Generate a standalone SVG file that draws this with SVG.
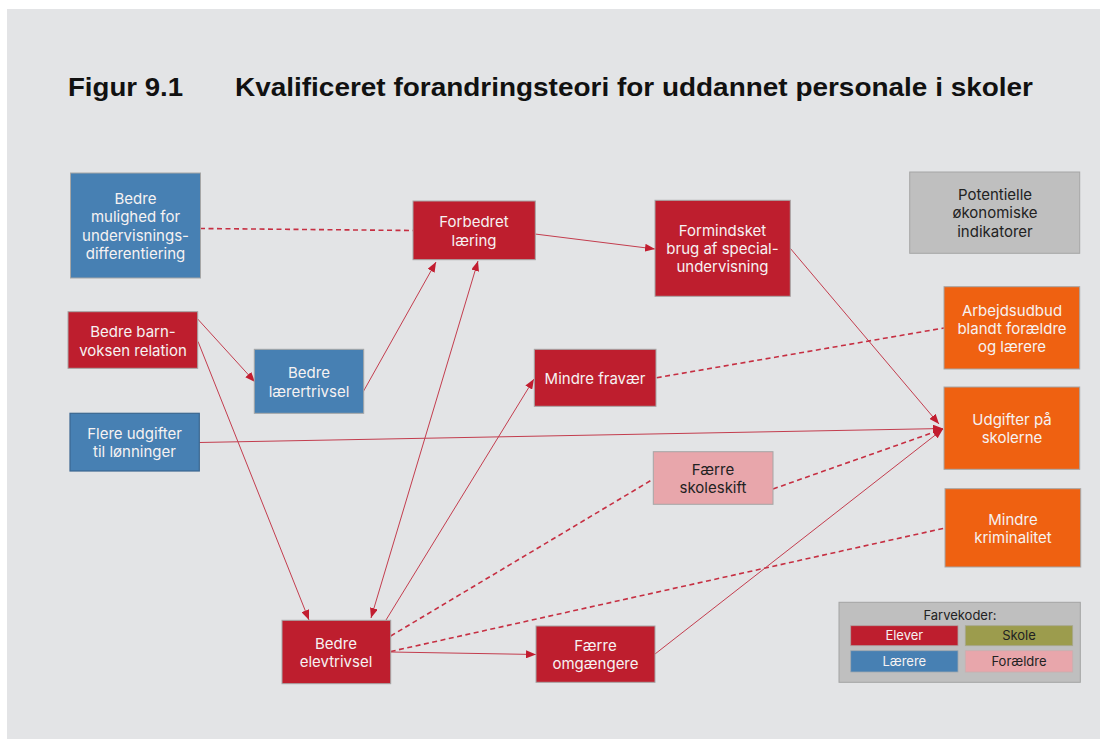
<svg xmlns="http://www.w3.org/2000/svg" width="1100" height="739" viewBox="0 0 1100 739">
  <style>
    .title { font-family: "Liberation Sans", Arial, sans-serif; font-weight: bold; font-size: 26px; fill: #111; }
    .box { stroke: #a6a6a6; stroke-width: 1; }
    .red { fill: #be1e2e; }
    .blue { fill: #4780b3; }
    .orange { fill: #ef6111; }
    .pink { fill: #e8a6ab; }
    .grey { fill: #bfbfbf; }
    .olive { fill: #9c9c4d; }
    .lbl { font-family: Inter, "Noto Sans", sans-serif; font-size: 15px; text-anchor: middle; fill: #f6f2f2; }
    .leg { font-family: Inter, "Noto Sans", sans-serif; font-size: 13px; text-anchor: middle; fill: #f6f2f2; }
    .dark { fill: #222; }
    .solid { stroke: #c33d4e; stroke-width: 1; fill: none; }
    .dash { stroke: #c62f42; stroke-width: 1.6; stroke-dasharray: 5 3.5; fill: none; }
    .arr { marker-end: url(#head); }
  </style>
  <defs>
    <marker id="head" viewBox="0 0 10 8" refX="10" refY="4" markerWidth="10" markerHeight="8" markerUnits="userSpaceOnUse" orient="auto-start-reverse">
      <path d="M0,0 L10,4 L0,8 z" fill="#c21d30"/>
    </marker>
  </defs>

  <!-- page background -->
  <rect x="0" y="0" width="1100" height="739" fill="#ffffff"/>
  <rect x="7" y="9" width="1093" height="730" fill="#e3e4e6"/>

  <text class="title" x="68" y="96" textLength="115" lengthAdjust="spacingAndGlyphs">Figur 9.1</text>
  <text class="title" x="235" y="96" textLength="798" lengthAdjust="spacingAndGlyphs">Kvalificeret forandringsteori for uddannet personale i skoler</text>

  <!-- connectors -->
  <g id="connectors">
    <path class="dash" d="M200,228.5 L413,230.5"/>
    <path class="solid arr" d="M535,234 L655,249"/>
    <path class="solid arr" d="M790,248 L939,424"/>
    <path class="solid arr" d="M197.7,319 L255,382"/>
    <path class="solid arr" d="M198,341.5 L309,620"/>
    <path class="solid arr" d="M358,401 L436,262"/>
    <path class="solid arr" d="M371,618 L478,261" marker-start="url(#head)"/>
    <path class="solid arr" d="M386,620 L534,379"/>
    <path class="dash" d="M656.7,377.7 L944,328"/>
    <path class="solid arr" d="M199.3,442.5 L943,428.5"/>
    <path class="dash" d="M390.7,636 L652.5,479.5"/>
    <path class="dash arr" d="M773,489 L943,429"/>
    <path class="dash" d="M390.7,651.5 L945,528"/>
    <path class="solid arr" d="M390.7,652 L536,654.5"/>
    <path class="solid arr" d="M655,654 L943,429"/>
  </g>

  <!-- nodes -->
  <g id="n-mulighed">
    <rect class="box blue" x="70.5" y="173" width="130" height="105"/>
    <text class="lbl" x="135.5" y="203.8">Bedre</text>
    <text class="lbl" x="135.5" y="222.2">mulighed for</text>
    <text class="lbl" x="135.5" y="240.5">undervisnings-</text>
    <text class="lbl" x="135.5" y="258.8">differentiering</text>
  </g>
  <g id="n-barnvoksen">
    <rect class="box red" x="68" y="311.7" width="129.7" height="56.6"/>
    <text class="lbl" x="133" y="337.2">Bedre barn-</text>
    <text class="lbl" x="133" y="355.5">voksen relation</text>
  </g>
  <g id="n-laerertrivsel">
    <rect class="box blue" x="254.3" y="349.3" width="109.4" height="64"/>
    <text class="lbl" x="309" y="378.2">Bedre</text>
    <text class="lbl" x="309" y="396.5">lærertrivsel</text>
  </g>
  <g id="n-loenninger">
    <rect x="70" y="413.3" width="129.3" height="57.7" fill="#4780b3" stroke="#3b6690" stroke-width="1.2"/>
    <text class="lbl" x="134.5" y="438.8">Flere udgifter</text>
    <text class="lbl" x="134.5" y="457.2">til lønninger</text>
  </g>
  <g id="n-laering">
    <rect class="box red" x="413" y="201" width="122.3" height="58.7"/>
    <text class="lbl" x="474" y="227.2">Forbedret</text>
    <text class="lbl" x="474" y="245.5">læring</text>
  </g>
  <g id="n-special">
    <rect class="box red" x="655" y="200.3" width="135.3" height="96"/>
    <text class="lbl" x="722.5" y="235.5">Formindsket</text>
    <text class="lbl" x="722.5" y="253.8">brug af special-</text>
    <text class="lbl" x="722.5" y="272.2">undervisning</text>
  </g>
  <g id="n-fravaer">
    <rect class="box red" x="534.3" y="349.3" width="121.7" height="57"/>
    <text class="lbl" x="595" y="383.8">Mindre fravær</text>
  </g>
  <g id="n-skoleskift">
    <rect class="box pink" x="653.3" y="451.7" width="119.7" height="52.6"/>
    <text class="lbl dark" x="713" y="474.5">Færre</text>
    <text class="lbl dark" x="713" y="492.8">skoleskift</text>
  </g>
  <g id="n-elevtrivsel">
    <rect class="box red" x="282" y="620.3" width="108.7" height="63.4"/>
    <text class="lbl" x="336" y="648.8">Bedre</text>
    <text class="lbl" x="336" y="667.2">elevtrivsel</text>
  </g>
  <g id="n-omgaengere">
    <rect class="box red" x="536" y="626" width="119" height="56.3"/>
    <text class="lbl" x="595.5" y="650.5">Færre</text>
    <text class="lbl" x="595.5" y="668.8">omgængere</text>
  </g>
  <g id="n-indikatorer">
    <rect class="box grey" x="909.7" y="172" width="170" height="81.3"/>
    <text class="lbl dark" x="995" y="199.8">Potentielle</text>
    <text class="lbl dark" x="995" y="218.2">økonomiske</text>
    <text class="lbl dark" x="995" y="236.5">indikatorer</text>
  </g>
  <g id="n-arbejdsudbud">
    <rect class="box orange" x="944" y="286.7" width="135.7" height="82.3"/>
    <text class="lbl" x="1012" y="315.5">Arbejdsudbud</text>
    <text class="lbl" x="1012" y="333.8">blandt forældre</text>
    <text class="lbl" x="1012" y="352.2">og lærere</text>
  </g>
  <g id="n-udgifter">
    <rect class="box orange" x="944" y="387" width="135.7" height="82.3"/>
    <text class="lbl" x="1012" y="424.8">Udgifter på</text>
    <text class="lbl" x="1012" y="443.2">skolerne</text>
  </g>
  <g id="n-kriminalitet">
    <rect class="box orange" x="945" y="488.7" width="135.7" height="78.3"/>
    <text class="lbl" x="1013" y="524.5">Mindre</text>
    <text class="lbl" x="1013" y="542.8">kriminalitet</text>
  </g>

  <!-- colour legend -->
  <g id="legend">
    <rect x="839" y="602.3" width="241.3" height="80" fill="#bfbfbf" stroke="#a3a3a3" stroke-width="1"/>
    <text class="leg dark" x="960" y="619.5">Farvekoder:</text>
    <rect class="red" x="850.7" y="625.7" width="107.3" height="20" stroke="#b0a0a0" stroke-width="0.8"/>
    <text class="leg" x="904.3" y="640.3">Elever</text>
    <rect class="olive" x="965.3" y="625.7" width="107.4" height="20" stroke="#a8a890" stroke-width="0.8"/>
    <text class="leg dark" x="1019" y="640.3">Skole</text>
    <rect class="blue" x="850.7" y="650.7" width="107.3" height="21.3" stroke="#a0a8b0" stroke-width="0.8"/>
    <text class="leg" x="904.3" y="665.8">Lærere</text>
    <rect class="pink" x="965.3" y="650.7" width="107.4" height="21.3" stroke="#c8b0b0" stroke-width="0.8"/>
    <text class="leg dark" x="1019" y="665.8">Forældre</text>
  </g>
</svg>
